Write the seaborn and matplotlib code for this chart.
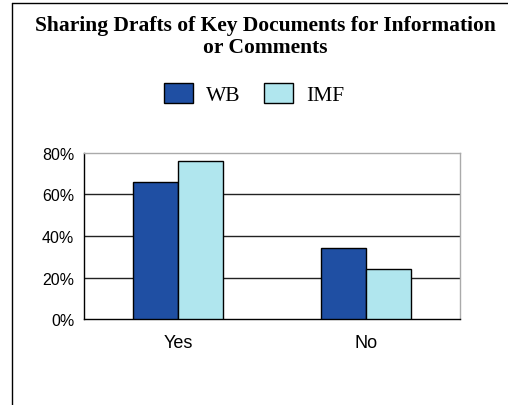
import seaborn as sns
import matplotlib.pyplot as plt
import pandas as pd
from matplotlib.lines import Line2D
from matplotlib.ticker import PercentFormatter

# data
answers = ['Yes', 'No']
wb_share = [66, 34]
imf_share = [76, 24]
series = ['WB', 'IMF']
colors = ['#1f4fa3', '#b0e6ee']

df = pd.DataFrame({
    'answer': answers * 2,
    'org': ['WB'] * 2 + ['IMF'] * 2,
    'share': wb_share + imf_share,
})

sns.set_style('white')
plt.rcParams['text.color'] = 'black'
plt.rcParams['xtick.color'] = 'black'
plt.rcParams['ytick.color'] = 'black'
fig = plt.figure(figsize=(5.08, 4.06), dpi=100)
ax = fig.add_axes([0.1654, 0.2118, 0.7402, 0.4089])

sns.barplot(data=df, x='answer', y='share', hue='org', hue_order=series,
            palette=colors, saturation=1, width=0.48, edgecolor='black', linewidth=1.0,
            ax=ax, legend=False, zorder=3)

ax.set_ylim(0, 80)
ax.set_xlim(-0.5, 1.5)
ax.set_yticks([0, 20, 40, 60, 80])
ax.yaxis.set_major_formatter(PercentFormatter(decimals=0))
ax.set_xticks([-0.5, 0.5, 1.5], minor=False)
ax.set_xticklabels(['', '', ''])
ax.set_xticks([0, 1], minor=True)
ax.set_xticklabels(answers, minor=True, fontsize=13, family='Liberation Sans')
ax.tick_params(axis='x', which='minor', length=0, pad=11, labelcolor='black')
ax.tick_params(axis='x', which='major', length=4, width=1, direction='out', color='black')
ax.tick_params(axis='y', length=3, width=1, direction='inout', labelsize=11.5, pad=5.5,
               color='black', labelcolor='black')
for lab in ax.get_yticklabels():
    lab.set_family('Liberation Sans')
ax.set_xlabel('')
ax.set_ylabel('')
for y in [20, 40, 60]:
    ax.axhline(y, color='#222222', linewidth=1.0, zorder=1)
ax.spines['left'].set_color('black')
ax.spines['bottom'].set_color('black')
ax.spines['top'].set_color('#aaaaaa')
ax.spines['right'].set_color('#aaaaaa')
for s in ax.spines.values():
    s.set_linewidth(1.0)

fig.text(0.522, 0.909, 'Sharing Drafts of Key Documents for Information\nor Comments',
         ha='center', va='center', fontsize=15.5, fontweight='bold', color='black',
         family='Liberation Serif', linespacing=1.15)

handles = [plt.Rectangle((0, 0), 1, 1, facecolor=c, edgecolor='black', linewidth=1.0) for c in colors]
fig.legend(handles, series, loc='center', bbox_to_anchor=(0.5, 0.766), ncol=2, frameon=False,
           prop={'family': 'Liberation Serif', 'size': 15.5}, handlelength=1.35, handleheight=1.05,
           columnspacing=1.1, handletextpad=0.6, labelcolor='black')

# outer frame lines
fig.add_artist(Line2D([12 / 508, 12 / 508], [0, 1 - 4 / 406], transform=fig.transFigure, color='black', linewidth=1.0))
fig.add_artist(Line2D([12 / 508, 1], [1 - 4 / 406, 1 - 4 / 406], transform=fig.transFigure, color='black', linewidth=1.0))

fig.savefig('out.png', dpi=100)
